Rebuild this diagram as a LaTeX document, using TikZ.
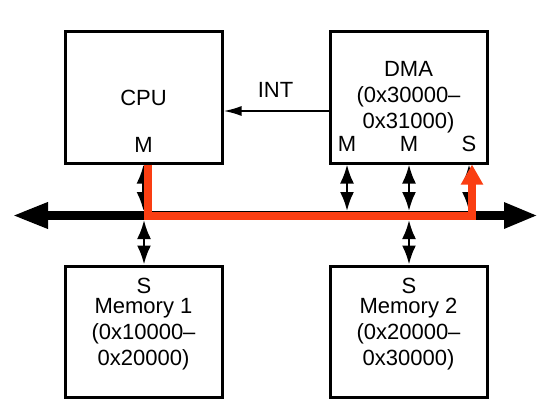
\documentclass[tikz,border=0pt]{standalone}
\usepackage{fontspec}
\setmainfont{Liberation Sans}
\usetikzlibrary{arrows.meta}
\definecolor{busred}{RGB}{250,62,18}
\begin{document}
\begin{tikzpicture}[x=1pt,y=1pt,
		txt/.style={font=\fontsize{22}{26}\selectfont},
		box/.style={txt,draw,line width=3pt,minimum width=157pt,minimum height=131pt,align=center,inner sep=0pt},
		portlabel/.style={txt,anchor=base,inner sep=0pt},
		port/.style={line width=2.5pt,{Latex[length=19pt,width=14pt]}-{Latex[length=19pt,width=14pt]},shorten >=4.5pt},
		bus/.style={line width=9pt,{Triangle[length=36pt,width=24pt]}-{Triangle[length=34pt,width=24pt]}},
		redbus/.style={line width=8pt,color=busred,-{Triangle[length=20pt,width=21pt]}},
		intarrow/.style={line width=2pt,-{Latex[length=18pt,width=10pt]}}]
		\useasboundingbox (0,0) rectangle (551,-412);
		% Boxes
		\node[box] (cpu) at (143.5,-97.5) {CPU};
		\node[box] (dma) at (408.5,-97.5) {DMA\\(0x30000--\\0x31000)};
		\node[box] (mem1) at (143.5,-331.5) {\rule{0pt}{20pt}Memory 1\\(0x10000--\\0x20000)};
		\node[box] (mem2) at (408.5,-331.5) {\rule{0pt}{20pt}Memory 2\\(0x20000--\\0x30000)};
		% Port labels
		\node[portlabel] (cpuM) at (143.5,-152) {M};
		\node[portlabel] (dmaM1) at (347,-151) {M};
		\node[portlabel] (dmaM2) at (409,-151) {M};
		\node[portlabel] (dmaS) at (469,-151) {S};
		\node[portlabel] (mem1S) at (144,-293) {S};
		\node[portlabel] (mem2S) at (409,-293) {S};
		% Interrupt
		\coordinate (intsrc) at (330,-111);
		\draw[intarrow] (intsrc -| dma.west) -- (intsrc -| cpu.east);
		\node[portlabel] (intlabel) at (275.5,-97) {INT};
		% Bus
		\coordinate (busL) at (12,-215.5);
		\coordinate (busR) at (538,-215.5);
		\draw[port] (cpuM |- cpu.south) -- (cpuM |- busL);
		\draw[port] (dmaM1 |- dma.south) -- (dmaM1 |- busL);
		\draw[port] (dmaM2 |- dma.south) -- (dmaM2 |- busL);
		\draw[port] (dmaS |- dma.south) -- (dmaS |- busL);
		\draw[port] (mem1S |- mem1.north) -- (mem1S |- busL);
		\draw[port] (mem2S |- mem2.north) -- (mem2S |- busL);
		\draw[bus] (busL) -- (busR);
		% Transfer path
		\coordinate (redR) at (472,-215.5);
		\draw[redbus] ([xshift=4pt]cpu.south) |- (redR) -- (redR |- dma.south);
	\end{tikzpicture}
\end{document}
